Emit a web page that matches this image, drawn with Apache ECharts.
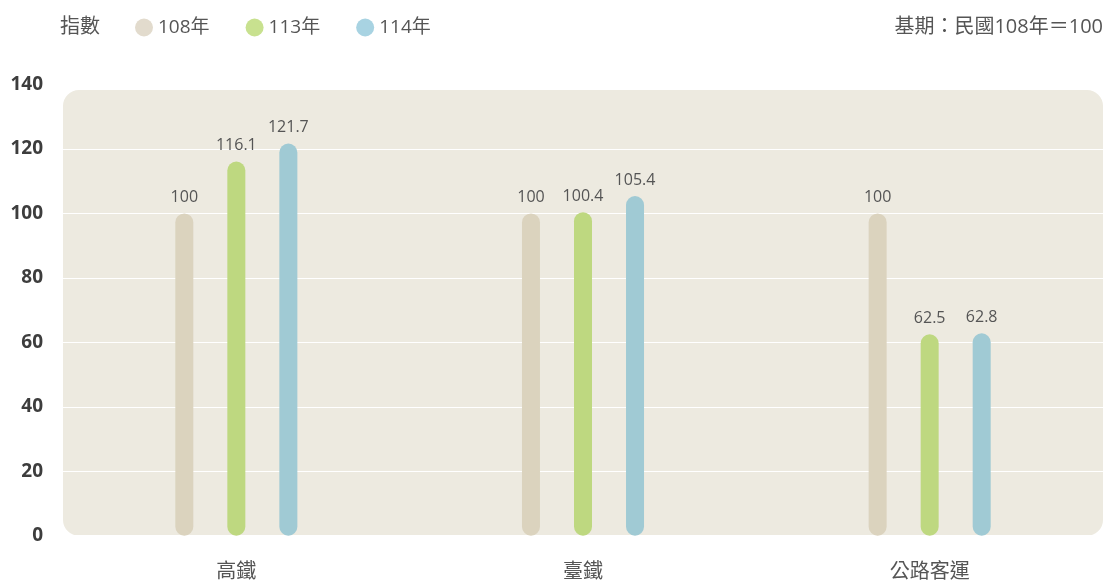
<!DOCTYPE html>
<html><head><meta charset="utf-8">
<script src="https://cdn.jsdelivr.net/npm/echarts@6/dist/echarts.min.js"></script>
<style>html,body{margin:0;padding:0;background:#fff}#c{width:1106px;height:583px}</style>
</head><body><div id="c"></div>
<script>
const categories = ['高鐵', '臺鐵', '公路客運'];
const seriesNames = ['108年', '113年', '114年'];
const values108 = [100, 100, 100];
const values113 = [116.1, 100.4, 62.5];
const values114 = [121.7, 105.4, 62.8];
const yTicks = { min: 0, max: 140, interval: 20 };

const barColors = ['#DBD3BE', '#BED880', '#A0CAD4'];
const legendColors = ['#E2DBCD', '#C8E18F', '#A8D3E2'];
const FONT = '"Open Sans", "Noto Sans CJK TC", sans-serif';

(function () {
const chart = echarts.init(document.getElementById('c'));
const data = [values108, values113, values114];
const noteText = {
  type: 'text', right: 3, top: 17,
  style: { text: '基期：民國108年＝100', fontSize: 20, fill: '#555', fontFamily: FONT }
};
chart.setOption({
  animation: false,
  textStyle: { fontFamily: FONT },
  title: { text: '指數', left: 55, top: 12, textStyle: { fontSize: 20, fontWeight: 'normal', color: '#555', fontFamily: FONT } },
  legend: {
    left: 130, top: 13, itemWidth: 18, itemHeight: 18, itemGap: 36,
    icon: 'circle',
    textStyle: { fontSize: 19, color: '#555', fontFamily: FONT },
    data: seriesNames.map((n, i) => ({ name: n, itemStyle: { color: legendColors[i] } }))
  },
  graphic: [noteText],
  grid: { left: 63, right: 3, top: 84.6, bottom: 47.3, containLabel: false },
  xAxis: {
    type: 'category', data: categories,
    axisLine: { show: false }, axisTick: { show: false },
    axisLabel: { fontSize: 20, color: '#555', margin: 27, fontFamily: FONT }
  },
  yAxis: {
    type: 'value', min: yTicks.min, max: yTicks.max, interval: yTicks.interval,
    axisLine: { show: false }, axisTick: { show: false },
    axisLabel: { fontSize: 19, fontWeight: 'bold', color: '#3d3d3d', margin: 20, fontFamily: FONT, padding: [0, 0, 6, 0] },
    splitLine: { lineStyle: { color: '#ffffff', width: 1 } }
  },
  series: seriesNames.map((n, i) => ({
    name: n, type: 'bar', data: data[i],
    barWidth: 18, barGap: '189%',
    itemStyle: { color: barColors[i], borderRadius: 9 },
    label: { show: true, position: 'top', distance: 8, fontSize: 16, color: '#555', fontFamily: FONT },
    z: 3
  }))
});

const gridRect = chart.getModel().getComponent('grid', 0).coordinateSystem.getRect();
const panelTop = chart.convertToPixel({ yAxisIndex: 0 }, 138.3);
const panelBottom = chart.convertToPixel({ yAxisIndex: 0 }, 0);
chart.setOption({
  graphic: [noteText, {
    type: 'rect', z: -10, silent: true,
    shape: { x: gridRect.x, y: panelTop, width: gridRect.width, height: panelBottom - panelTop, r: 16 },
    style: { fill: '#EDEAE0' }
  }]
});
})();
</script></body></html>
